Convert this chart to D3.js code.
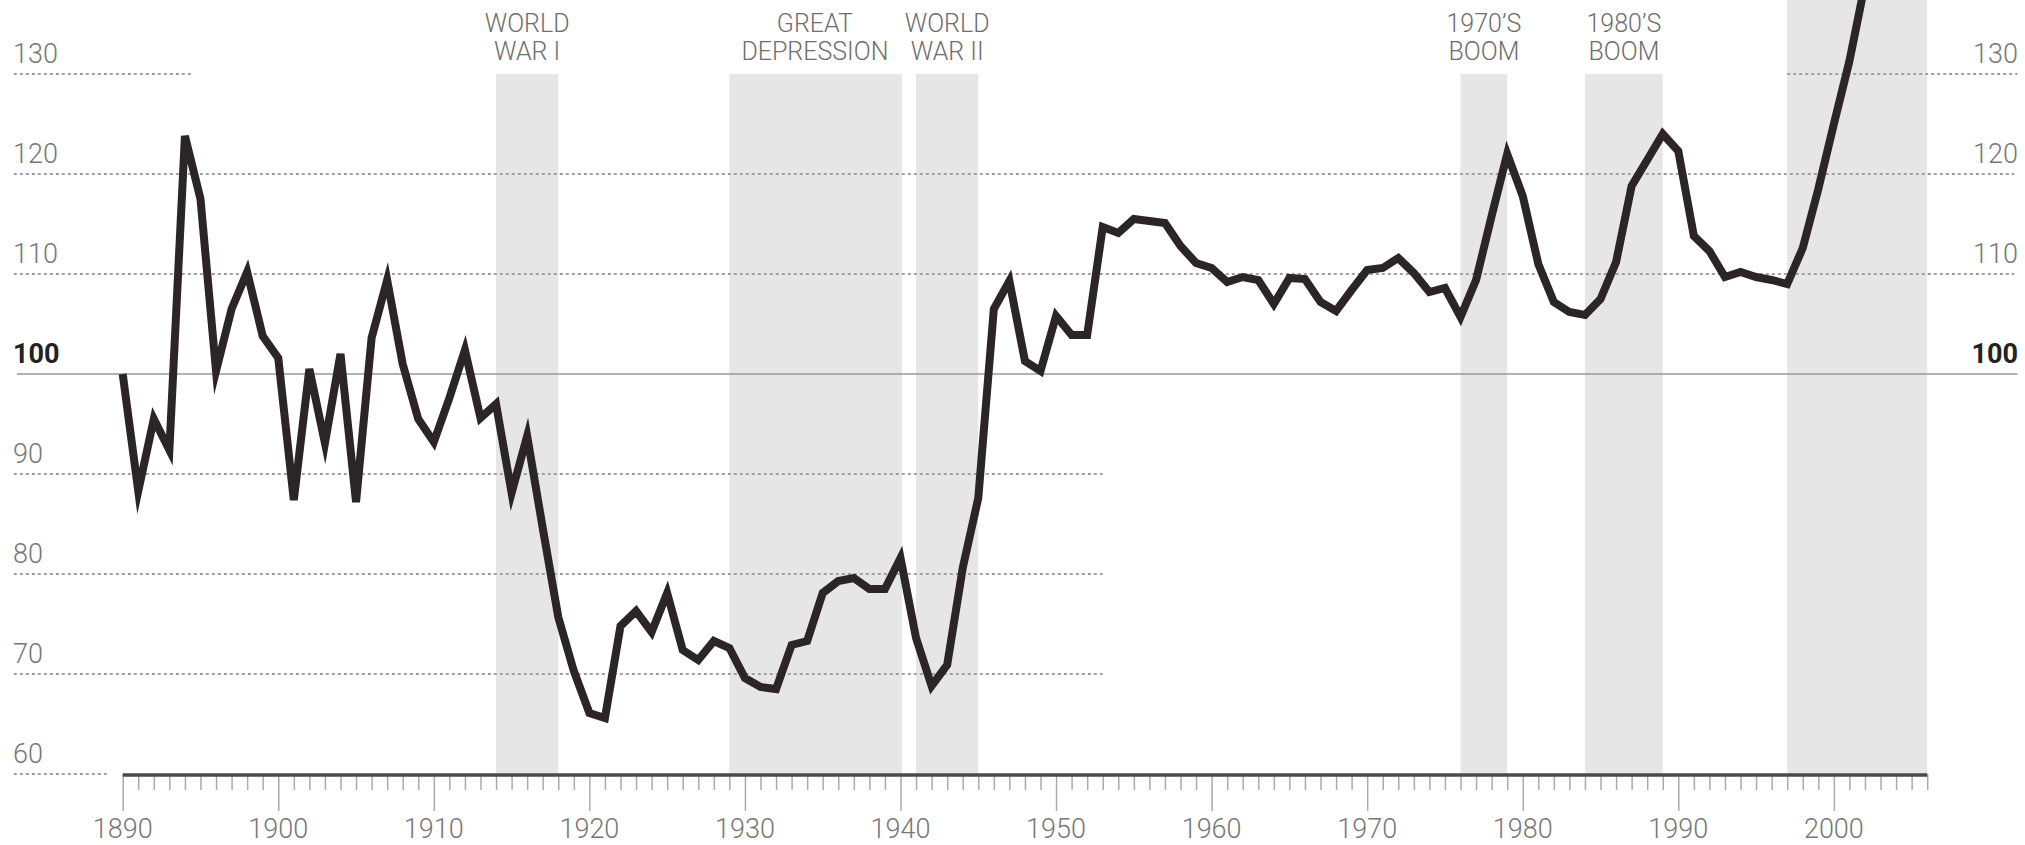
<!DOCTYPE html>
<html>
<head>
<meta charset="utf-8">
<script src="https://cdn.jsdelivr.net/npm/d3@7"></script>
<style>
  body { margin: 0; background: #fff; }
  svg text { font-family: Roboto, "Liberation Sans", sans-serif; }
</style>
</head>
<body>
<div id="chart"></div>
<script>
// chart size
const width = 2025, height = 845;

// data: index value by year, starting 1890
const firstYear = 1890;
const indexValues = [
  100, 88.3, 95.5, 92.4, 123.8, 117.5, 100.3, 106.5, 110.2, 103.8,   // 1890s
  101.6, 87.4, 100.5, 93.1, 102, 87.2, 103.6, 109.4, 101, 95.5,      // 1900s
  93.2, 97.6, 102.4, 95.6, 97, 88.1, 93.8, 84.6, 75.7, 70.3,         // 1910s
  66.1, 65.6, 74.8, 76.3, 74.2, 78.1, 72.4, 71.4, 73.3, 72.6,        // 1920s
  69.6, 68.7, 68.5, 72.9, 73.3, 78.1, 79.3, 79.6, 78.5, 78.5,        // 1930s
  81.6, 73.6, 68.8, 70.9, 80.6, 87.6, 106.5, 109.3, 101.3, 100.3,    // 1940s
  105.8, 103.9, 103.9, 114.7, 114.1, 115.5, 115.3, 115.1, 112.8, 111.1, // 1950s
  110.6, 109.2, 109.7, 109.4, 107, 109.6, 109.5, 107.2, 106.3, 108.4,   // 1960s
  110.4, 110.6, 111.6, 110.1, 108.2, 108.6, 105.7, 109.4, 115.8, 122,   // 1970s
  117.8, 111, 107.2, 106.2, 105.9, 107.5, 111.2, 118.8, 121.4, 124,     // 1980s
  122.3, 113.8, 112.3, 109.7, 110.2, 109.7, 109.4, 109, 112.6, 118.5,   // 1990s
  125, 131.3, 139                                                       // 2000s
];
const years = indexValues.map((d, i) => firstYear + i);

// shaded periods
const bandStarts = [1914, 1929, 1941, 1976, 1984, 1997];
const bandEnds   = [1918, 1940.1, 1945, 1979, 1989, 2006];
const bandLabels = [["WORLD", "WAR I"], ["GREAT", "DEPRESSION"], ["WORLD", "WAR II"],
                    ["1970\u2019S", "BOOM"], ["1980\u2019S", "BOOM"], []];

// y ticks
const leftTicks  = [130, 120, 110, 100, 90, 80, 70, 60];
const rightTicks = [130, 120, 110, 100];
const xLabels = [1890, 1900, 1910, 1920, 1930, 1940, 1950, 1960, 1970, 1980, 1990, 2000];

const svg = d3.select("#chart")
  .append("svg")
    .attr("width", width)
    .attr("height", height);

const x = d3.scaleLinear()
    .domain([1890, 2006])
    .range([122.7, 1927.2]);

const y = d3.scaleLinear()
    .domain([60, 130])
    .range([774, 74]);

// bands
const bands = bandStarts.map((s, i) => ({start: s, end: bandEnds[i], label: bandLabels[i]}));

svg.selectAll("rect.band")
  .data(bands)
  .join("rect")
    .attr("class", "band")
    .attr("x", d => x(d.start))
    .attr("width", d => x(d.end) - x(d.start))
    .attr("y", d => d.label.length ? y(130) : 0)
    .attr("height", d => y(60) - (d.label.length ? y(130) : 0))
    .attr("fill", "#e6e6e6");

// band labels
bands.forEach(b => {
  b.label.forEach((t, j) => {
    svg.append("text")
      .attr("x", x((Math.round(b.start) + Math.round(b.end)) / 2))
      .attr("y", 32 + j * 28)
      .attr("text-anchor", "middle")
      .attr("font-size", 25)
      .attr("font-weight", 300)
      .attr("fill", "#6e6e6e")
      .text(t);
  });
});

// dotted gridlines, spans given in years
const gridSpans = {
  130: [[1883, 1894.5], [1997, 2011.8]],
  120: [[1883, 2011.6]],
  110: [[1883, 2011.6]],
  90:  [[1883, 1953]],
  80:  [[1883, 1953]],
  70:  [[1883, 1953]],
  60:  [[1883, 1889]]
};
Object.keys(gridSpans).forEach(v => {
  gridSpans[v].forEach(span => {
    svg.append("line")
      .attr("x1", x(span[0]))
      .attr("x2", x(span[1]))
      .attr("y1", y(+v))
      .attr("y2", y(+v))
      .attr("stroke", "#a0a0a0")
      .attr("stroke-width", 2)
      .attr("stroke-dasharray", "3,3");
  });
});

// 100 baseline
svg.append("line")
  .attr("x1", x(1883.2))
  .attr("x2", x(2011.8))
  .attr("y1", y(100))
  .attr("y2", y(100))
  .attr("stroke", "#999")
  .attr("stroke-width", 1.5);

// y labels
svg.selectAll("text.yleft")
  .data(leftTicks)
  .join("text")
    .attr("class", "yleft")
    .attr("x", 13)
    .attr("y", d => y(d) - 11)
    .attr("font-size", 27)
    .attr("font-weight", d => d === 100 ? 700 : 300)
    .attr("fill", d => d === 100 ? "#222" : "#777")
    .text(d => d);

svg.selectAll("text.yright")
  .data(rightTicks)
  .join("text")
    .attr("class", "yright")
    .attr("x", 2018)
    .attr("y", d => y(d) - 11)
    .attr("text-anchor", "end")
    .attr("font-size", 27)
    .attr("font-weight", d => d === 100 ? 700 : 300)
    .attr("fill", d => d === 100 ? "#222" : "#777")
    .text(d => d);

// x axis
const xAxis = d3.axisBottom(x)
    .tickValues(d3.range(1890, 2007))
    .tickSize(16)
    .tickFormat("");

const gx = svg.append("g")
    .attr("transform", `translate(0, ${y(60)})`)
    .call(xAxis);
gx.select(".domain").remove();
gx.selectAll(".tick line")
    .attr("stroke", "#ababab")
    .attr("stroke-width", 1.5)
    .attr("y2", d => d % 10 === 0 ? 37 : 16);

svg.append("line")
  .attr("x1", x(1890))
  .attr("x2", x(2006))
  .attr("y1", y(60) + 1)
  .attr("y2", y(60) + 1)
  .attr("stroke", "#4a4a4a")
  .attr("stroke-width", 3.5);

svg.selectAll("text.xlab")
  .data(xLabels)
  .join("text")
    .attr("class", "xlab")
    .attr("x", d => x(d))
    .attr("y", 838)
    .attr("text-anchor", "middle")
    .attr("font-size", 27)
    .attr("font-weight", 300)
    .attr("fill", "#777")
    .text(d => d);

// the index line
const line = d3.line()
    .x((d, i) => x(years[i]))
    .y(d => y(d));

svg.append("path")
  .datum(indexValues)
  .attr("d", line)
  .attr("fill", "none")
  .attr("stroke", "#2b2527")
  .attr("stroke-width", 8)
  .attr("stroke-linejoin", "miter")
  .attr("stroke-miterlimit", 6);
</script>
</body>
</html>
